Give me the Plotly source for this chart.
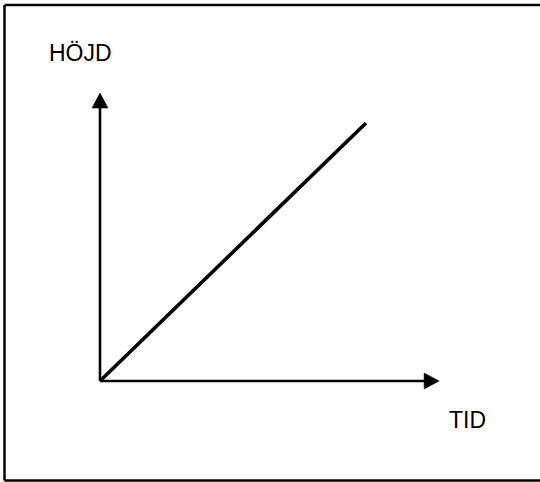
import plotly.graph_objects as go

# Data (abstract units)
TIME = [0, 10]          # line start/end along TID axis
HEIGHT = [0, 10]        # line start/end along HÖJD axis
AXIS_X_END = 12.75      # length of TID axis arrow
AXIS_Y_END = 11.16      # length of HÖJD axis arrow
X_LABEL = "TID"
Y_LABEL = "HÖJD"

W, H = 540, 482
# pixel scale (px per unit) and origin placement
SX, SY = 26.6, 25.8
OX, OY = 100, 381

x_range = [-OX / SX, (W - OX) / SX]
y_range = [-(H - OY) / SY, OY / SY]

AXIS_W = 2.6
LINE_W = 3.6
HEAD_L, HEAD_HW = 15, 8  # arrowhead length / half width in px

fig = go.Figure()

# axes lines
fig.add_trace(go.Scatter(x=[0, AXIS_X_END - HEAD_L / SX + 0.1], y=[0, 0], mode="lines",
                         line=dict(color="black", width=AXIS_W), hoverinfo="skip"))
fig.add_trace(go.Scatter(x=[0, 0], y=[0, AXIS_Y_END - HEAD_L / SY + 0.1], mode="lines",
                         line=dict(color="black", width=AXIS_W), hoverinfo="skip"))
# arrowheads
fig.add_trace(go.Scatter(
    x=[AXIS_X_END, AXIS_X_END - HEAD_L / SX, AXIS_X_END - HEAD_L / SX, AXIS_X_END],
    y=[0, HEAD_HW / SY, -HEAD_HW / SY, 0],
    mode="lines", fill="toself", fillcolor="black", line=dict(color="black", width=0.5),
    hoverinfo="skip"))
fig.add_trace(go.Scatter(
    x=[0, HEAD_HW / SX, -HEAD_HW / SX, 0],
    y=[AXIS_Y_END, AXIS_Y_END - HEAD_L / SY, AXIS_Y_END - HEAD_L / SY, AXIS_Y_END],
    mode="lines", fill="toself", fillcolor="black", line=dict(color="black", width=0.5),
    hoverinfo="skip"))
# the diagonal line
fig.add_trace(go.Scatter(x=TIME, y=HEIGHT, mode="lines",
                         line=dict(color="black", width=LINE_W), hoverinfo="skip"))

font = dict(family="Liberation Sans, Arial, sans-serif", size=23, color="black")
fig.add_annotation(text=Y_LABEL, x=80 / W, y=1 - 53 / H, xref="paper", yref="paper",
                   showarrow=False, xanchor="center", yanchor="middle", font=font)
fig.add_annotation(text=X_LABEL, x=467 / W, y=1 - 420 / H, xref="paper", yref="paper",
                   showarrow=False, xanchor="center", yanchor="middle", font=font)

# frame (top, left, bottom)
frame = dict(color="black", width=2.5)
fig.add_shape(type="line", xref="paper", yref="paper", x0=4.5 / W, x1=1.0, y0=1 - 5 / H, y1=1 - 5 / H, line=frame)
fig.add_shape(type="line", xref="paper", yref="paper", x0=4.5 / W, x1=4.5 / W, y0=1 - 5 / H, y1=1 - 480.5 / H, line=frame)
fig.add_shape(type="line", xref="paper", yref="paper", x0=4.5 / W, x1=1.0, y0=1 - 480.5 / H, y1=1 - 480.5 / H, line=frame)

fig.update_layout(
    width=W, height=H, margin=dict(l=0, r=0, t=0, b=0),
    paper_bgcolor="white", plot_bgcolor="white", showlegend=False,
    xaxis=dict(range=x_range, visible=False, fixedrange=True),
    yaxis=dict(range=y_range, visible=False, fixedrange=True),
)

fig.write_html("out.html", config={"displayModeBar": False},
               post_script="document.body.style.margin='0';document.body.style.overflow='hidden';")
